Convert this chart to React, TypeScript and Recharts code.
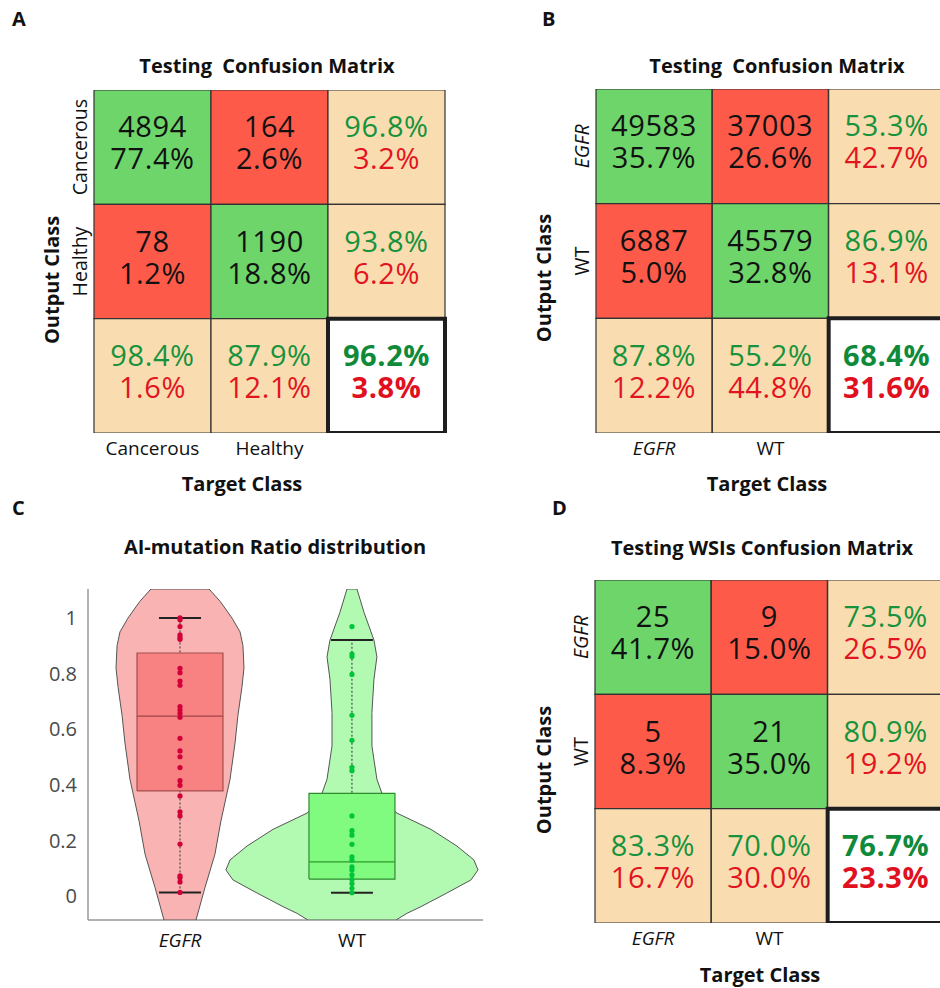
import React from 'react';
import { BarChart, Bar, XAxis, YAxis, Cell, LabelList, ScatterChart, Scatter } from 'recharts';

const FONT = "'Open Sans', 'Noto Sans', sans-serif";

// ---------- Panel A : Testing Confusion Matrix (Cancerous / Healthy)
const aClasses = ['Cancerous', 'Healthy'];
const aCounts = [[4894, 164], [78, 1190]];
const aCountShares = [['77.4%', '2.6%'], ['1.2%', '18.8%']];
const aRowRates = [['96.8%', '3.2%'], ['93.8%', '6.2%']];
const aColRates = [['98.4%', '1.6%'], ['87.9%', '12.1%']];
const aOverall = ['96.2%', '3.8%'];

// ---------- Panel B : Testing Confusion Matrix (EGFR / WT)
const bClasses = ['EGFR', 'WT'];
const bCounts = [[49583, 37003], [6887, 45579]];
const bCountShares = [['35.7%', '26.6%'], ['5.0%', '32.8%']];
const bRowRates = [['53.3%', '42.7%'], ['86.9%', '13.1%']];
const bColRates = [['87.8%', '12.2%'], ['55.2%', '44.8%']];
const bOverall = ['68.4%', '31.6%'];

// ---------- Panel D : Testing WSIs Confusion Matrix
const dClasses = ['EGFR', 'WT'];
const dCounts = [[25, 9], [5, 21]];
const dCountShares = [['41.7%', '15.0%'], ['8.3%', '35.0%']];
const dRowRates = [['73.5%', '26.5%'], ['80.9%', '19.2%']];
const dColRates = [['83.3%', '16.7%'], ['70.0%', '30.0%']];
const dOverall = ['76.7%', '23.3%'];

// ---------- Panel C : AI-mutation ratio distribution
const violinCategories = ['EGFR', 'WT'];
const yTicks = [0, 0.2, 0.4, 0.6, 0.8, 1];
const egfrRatios = [1.0, 0.993, 0.969, 0.939, 0.93, 0.923, 0.819, 0.803, 0.773, 0.758, 0.681, 0.669, 0.657, 0.643, 0.567, 0.522, 0.501, 0.462, 0.415, 0.398, 0.36, 0.303, 0.288, 0.187, 0.073, 0.066, 0.051, 0.013];
const wtRatios = [0.969, 0.87, 0.861, 0.797, 0.65, 0.56, 0.463, 0.451, 0.288, 0.235, 0.219, 0.186, 0.141, 0.129, 0.105, 0.094, 0.076, 0.06, 0.045, 0.028, 0.012];
const egfrBox = { lo: 0.013, q1: 0.378, med: 0.647, q3: 0.874, hi: 1.0 };
const wtBox = { lo: 0.012, q1: 0.061, med: 0.123, q3: 0.369, hi: 0.921 };
// [ratio value, violin half-width (density) in category units]
const egfrDensity = [[1.104, 0.169], [1.06, 0.233], [1.0, 0.302], [0.95, 0.349], [0.9, 0.366], [0.82, 0.372], [0.75, 0.36], [0.65, 0.337], [0.55, 0.32], [0.42, 0.291], [0.27, 0.238], [0.15, 0.203], [0.03, 0.145], [-0.086, 0.093]];
const wtDensity = [[1.104, 0.029], [1.02, 0.07], [0.92, 0.128], [0.86, 0.145], [0.78, 0.128], [0.66, 0.116], [0.54, 0.116], [0.42, 0.145], [0.37, 0.174], [0.3, 0.256], [0.24, 0.459], [0.18, 0.61], [0.13, 0.709], [0.094, 0.733], [0.058, 0.692], [0.011, 0.552], [-0.038, 0.401], [-0.062, 0.32], [-0.086, 0.256]];

const CELL_GREEN = '#6dd56a';
const CELL_RED = '#fe5a4a';
const CELL_BEIGE = '#f9ddb0';
const TXT_GREEN = '#17923d';
const TXT_RED = '#e2141f';

type MatrixProps = {
  classes: string[];
  counts: number[][];
  shares: string[][];
  rowRates: string[][];
  colRates: string[][];
  overall: string[];
  width: number;
  height: number;
  margin: { top: number; right: number; bottom: number; left: number };
};

function ConfusionMatrix(props: MatrixProps) {
  const { classes, counts, shares, rowRates, colRates, overall, width, height, margin } = props;
  const data = [0, 1, 2].map((c) => ({
    col: c < 2 ? classes[c] : '',
    r0: 1, r1: 1, r2: 1,
    l0: `0-${c}`, l1: `1-${c}`, l2: `2-${c}`,
  }));
  const info = (r: number, c: number) => {
    if (r < 2 && c < 2) return { fill: r === c ? CELL_GREEN : CELL_RED, lines: [String(counts[r][c]), shares[r][c]], colors: ['#111', '#111'], bold: false, total: false };
    if (r < 2) return { fill: CELL_BEIGE, lines: rowRates[r], colors: [TXT_GREEN, TXT_RED], bold: false, total: false };
    if (c < 2) return { fill: CELL_BEIGE, lines: colRates[c], colors: [TXT_GREEN, TXT_RED], bold: false, total: false };
    return { fill: '#ffffff', lines: overall, colors: ['#0f8a3a', '#e0101e'], bold: true, total: true };
  };
  const renderLabel = (p: any) => {
    const vb = p.viewBox || p;
    const cx = vb.x + vb.width / 2;
    const cy = vb.y + vb.height / 2;
    const [r, c] = String(p.value).split('-').map(Number);
    const inf = info(r, c);
    return (
      <g>
        <text x={cx} y={cy - 10} textAnchor="middle" fontFamily={FONT} fontSize={29} letterSpacing={0.6} fontWeight={inf.bold ? 700 : 400} fill={inf.colors[0]}>{inf.lines[0]}</text>
        <text x={cx} y={cy + 22} textAnchor="middle" fontFamily={FONT} fontSize={29} letterSpacing={0.6} fontWeight={inf.bold ? 700 : 400} fill={inf.colors[1]}>{inf.lines[1]}</text>
      </g>
    );
  };
  const colTick = (p: any) => {
    const v = p.payload && p.payload.value;
    if (!v) return <g />;
    return (
      <text x={p.x} y={p.y + 14} textAnchor="middle" fontFamily={FONT} fontSize={19} fontStyle={v === 'EGFR' ? 'italic' : 'normal'} fill="#111">{v}</text>
    );
  };
  const rowTick = (p: any) => {
    const v = classes[Math.floor(p.payload.value)];
    const x = p.x + 1;
    return (
      <text x={x} y={p.y} transform={`rotate(-90, ${x}, ${p.y})`} textAnchor="middle" fontFamily={FONT} fontSize={19.5} fontStyle={v === 'EGFR' ? 'italic' : 'normal'} fill="#111">{v}</text>
    );
  };
  return (
    <BarChart width={width} height={height} data={data} margin={margin} barCategoryGap={0} barGap={0}>
      <XAxis dataKey="col" tick={colTick} tickLine={false} axisLine={false} interval={0} height={30} />
      <YAxis type="number" domain={[0, 3]} reversed allowDataOverflow ticks={[0.5, 1.5]} tick={rowTick} tickLine={false} axisLine={false} width={40} />
      {[0, 1, 2].map((r) => (
        <Bar key={r} dataKey={`r${r}`} stackId="m" isAnimationActive={false}>
          {data.map((d, c) => {
            const inf = info(r, c);
            return <Cell key={c} fill={inf.fill} stroke={inf.total ? '#1e1e1e' : '#333'} strokeWidth={inf.total ? 4 : 1.2} />;
          })}
          <LabelList dataKey={`l${r}`} content={renderLabel} />
        </Bar>
      ))}
    </BarChart>
  );
}

const BOX_HW = 0.25;
const CAP_HW = 0.122;

const violinOutline = (center: number, density: number[][]) => {
  const left = density.map(([v, w]) => ({ x: center - w, y: v }));
  const right = [...density].reverse().map(([v, w]) => ({ x: center + w, y: v }));
  return [...left, ...right, left[0]];
};
const boxOutline = (c: number, b: { q1: number; q3: number }) => [
  { x: c - BOX_HW, y: b.q1 }, { x: c - BOX_HW, y: b.q3 }, { x: c + BOX_HW, y: b.q3 }, { x: c + BOX_HW, y: b.q1 }, { x: c - BOX_HW, y: b.q1 },
];
const seg = (x1: number, y1: number, x2: number, y2: number) => [{ x: x1, y: y1 }, { x: x2, y: y2 }];
const noShape = () => <g />;

function ViolinChart() {
  const groups = [
    { c: 1, density: egfrDensity, box: egfrBox, pts: egfrRatios, vFill: '#fab3b3', bFill: '#f88181', bStroke: '#a34e4e', mStroke: '#a34444', pFill: '#d2003a' },
    { c: 2, density: wtDensity, box: wtBox, pts: wtRatios, vFill: '#b2f9b2', bFill: '#80fb80', bStroke: '#2f8a2f', mStroke: '#2a9a2a', pFill: '#00c43a' },
  ];
  const yTick = (p: any) => (
    <text x={p.x - 3} y={p.y} dy="0.36em" textAnchor="end" fontFamily={FONT} fontSize={20} fill="#4a4a4a">{String(p.payload.value)}</text>
  );
  const xTick = (p: any) => {
    const v = violinCategories[Math.round(p.payload.value) - 1];
    return <text x={p.x} y={p.y + 19} textAnchor="middle" fontFamily={FONT} fontSize={19} fontStyle={v === 'EGFR' ? 'italic' : 'normal'} fill="#111">{v}</text>;
  };
  const els: any[] = [];
  groups.forEach((g, i) => {
    els.push(<Scatter key={`v${i}`} data={violinOutline(g.c, g.density)} line={{ stroke: '#555', strokeWidth: 1, fill: g.vFill }} lineJointType="linear" shape={noShape} isAnimationActive={false} />);
  });
  groups.forEach((g, i) => {
    els.push(<Scatter key={`w${i}`} data={seg(g.c, g.box.lo, g.c, g.box.hi)} line={{ stroke: '#333', strokeWidth: 1, strokeDasharray: '2 2' }} shape={noShape} isAnimationActive={false} />);
    els.push(<Scatter key={`cl${i}`} data={seg(g.c - CAP_HW, g.box.lo, g.c + CAP_HW, g.box.lo)} line={{ stroke: '#222', strokeWidth: 2 }} shape={noShape} isAnimationActive={false} />);
    els.push(<Scatter key={`ch${i}`} data={seg(g.c - CAP_HW, g.box.hi, g.c + CAP_HW, g.box.hi)} line={{ stroke: '#222', strokeWidth: 2 }} shape={noShape} isAnimationActive={false} />);
    els.push(<Scatter key={`b${i}`} data={boxOutline(g.c, g.box)} line={{ stroke: g.bStroke, strokeWidth: 1.2, fill: g.bFill }} shape={noShape} isAnimationActive={false} />);
    els.push(<Scatter key={`m${i}`} data={seg(g.c - BOX_HW, g.box.med, g.c + BOX_HW, g.box.med)} line={{ stroke: g.mStroke, strokeWidth: 1.2 }} shape={noShape} isAnimationActive={false} />);
    els.push(<Scatter key={`p${i}`} data={g.pts.map((v) => ({ x: g.c, y: v }))} shape={(p: any) => <circle cx={p.cx} cy={p.cy} r={2.6} fill={g.pFill} />} isAnimationActive={false} />);
  });
  return (
    <ScatterChart width={490} height={488} margin={{ top: 89, right: 7, bottom: 38, left: 28 }}>
      <XAxis type="number" dataKey="x" domain={[0.465, 2.762]} allowDataOverflow ticks={[1, 2]} tick={xTick} tickLine={false} axisLine={{ stroke: '#999', strokeWidth: 1.5 }} height={30} />
      <YAxis type="number" dataKey="y" domain={[-0.086, 1.104]} allowDataOverflow ticks={yTicks} tick={yTick} tickLine={false} axisLine={{ stroke: '#999', strokeWidth: 1.5 }} width={60} />
      {els}
    </ScatterChart>
  );
}

const T = (p: any) => <text fontFamily={FONT} fill="#111" {...p} />;

export default function App() {
  return (
    <div style={{ position: 'absolute', left: 0, top: 0, width: 940, height: 988, overflow: 'hidden', background: '#fff', fontFamily: FONT }}>
      <div style={{ position: 'absolute', left: 0, top: 0 }}>
        <ConfusionMatrix classes={aClasses} counts={aCounts} shares={aCountShares} rowRates={aRowRates} colRates={aColRates} overall={aOverall}
          width={470} height={500} margin={{ top: 90, right: 25, bottom: 37, left: 54 }} />
      </div>
      <div style={{ position: 'absolute', left: 470, top: 0 }}>
        <ConfusionMatrix classes={bClasses} counts={bCounts} shares={bCountShares} rowRates={bRowRates} colRates={bColRates} overall={bOverall}
          width={480} height={500} margin={{ top: 89, right: 5, bottom: 37, left: 86 }} />
      </div>
      <div style={{ position: 'absolute', left: 0, top: 500 }}>
        <ViolinChart />
      </div>
      <div style={{ position: 'absolute', left: 470, top: 500 }}>
        <ConfusionMatrix classes={dClasses} counts={dCounts} shares={dCountShares} rowRates={dRowRates} colRates={dColRates} overall={dOverall}
          width={480} height={488} margin={{ top: 80, right: 6, bottom: 35, left: 85 }} />
      </div>
      <svg width={940} height={988} style={{ position: 'absolute', left: 0, top: 0, pointerEvents: 'none' }}>
        <T x={12} y={26} fontSize={20} fontWeight={700}>A</T>
        <T x={542} y={26} fontSize={20} fontWeight={700}>B</T>
        <T x={12} y={515} fontSize={20} fontWeight={700}>C</T>
        <T x={552} y={515} fontSize={20} fontWeight={700}>D</T>
        <T x={267} y={73} fontSize={20} fontWeight={700} textAnchor="middle">{'Testing\u00A0 Confusion Matrix'}</T>
        <T x={777} y={73} fontSize={20} fontWeight={700} textAnchor="middle">{'Testing\u00A0 Confusion Matrix'}</T>
        <T x={275} y={554} fontSize={20} fontWeight={700} textAnchor="middle">AI-mutation Ratio distribution</T>
        <T x={762} y={555} fontSize={20} fontWeight={700} textAnchor="middle">Testing WSIs Confusion Matrix</T>
        <T x={59} y={280} fontSize={20} fontWeight={700} textAnchor="middle" transform="rotate(-90, 59, 280)">Output Class</T>
        <T x={551} y={278} fontSize={20} fontWeight={700} textAnchor="middle" transform="rotate(-90, 551, 278)">Output Class</T>
        <T x={551} y={770} fontSize={20} fontWeight={700} textAnchor="middle" transform="rotate(-90, 551, 770)">Output Class</T>
        <T x={242} y={491} fontSize={20} fontWeight={700} textAnchor="middle">Target Class</T>
        <T x={767} y={491} fontSize={20} fontWeight={700} textAnchor="middle">Target Class</T>
        <T x={760} y={982} fontSize={20} fontWeight={700} textAnchor="middle">Target Class</T>
      </svg>
    </div>
  );
}
